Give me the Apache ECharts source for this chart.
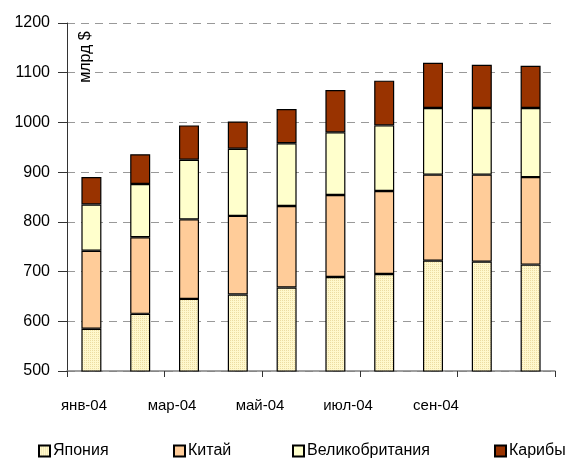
<!DOCTYPE html>
<html>
<head>
<meta charset="utf-8">
<script src="https://cdn.jsdelivr.net/npm/echarts@6/dist/echarts.min.js"></script>
<style>html,body{margin:0;padding:0;background:#fff}#c{width:574px;height:463px}</style>
</head>
<body>
<div id="c"></div>
<script>
var categories = ['янв-04','фев-04','мар-04','апр-04','май-04','июн-04','июл-04','авг-04','сен-04','окт-04'];
var tickLabels = ['янв-04','мар-04','май-04','июл-04','сен-04'];
var japan = [585, 615, 645, 654, 668, 689, 695, 722, 720, 714];
var china = [157, 154, 160, 158, 164, 165, 167, 173, 175, 176];
var uk = [93, 107, 120, 135, 126, 126, 132, 134, 134, 139];
var caribbean = [55, 60, 69, 55, 69, 85, 90, 91, 87, 85];
var seriesNames = ['Япония', 'Китай', 'Великобритания', 'Карибы'];
var yMin = 500, yMax = 1200, yStep = 100;

var font = '"Liberation Sans", Arial, sans-serif';

function makePattern() {
  var cv = document.createElement('canvas');
  cv.width = 2; cv.height = 2;
  var ctx = cv.getContext('2d');
  ctx.fillStyle = '#fff8cc';
  ctx.fillRect(0, 0, 2, 2);
  ctx.fillStyle = '#ecdca2';
  ctx.fillRect(0, 0, 1, 1);
  return cv;
}
var japanFill = { image: makePattern(), repeat: 'repeat' };

var chart = echarts.init(document.getElementById('c'), null, { renderer: 'canvas' });

function bar(name, data, color) {
  return {
    name: name, type: 'bar', stack: 'total', data: data,
    xAxisIndex: 0, yAxisIndex: 0,
    barWidth: 20,
    itemStyle: { color: color, borderColor: '#000', borderWidth: 1.2 },
    emphasis: { disabled: true },
    animation: false
  };
}

var legendLefts = [38, 173, 292, 494];
var legends = seriesNames.map(function (n, i) {
  return {
    bottom: 4, left: legendLefts[i], padding: 0,
    itemWidth: 11, itemHeight: 11, itemGap: 0,
    textStyle: { fontSize: 16, color: '#000', fontFamily: font, padding: [0, 0, 0, -2] },
    icon: 'rect',
    selectedMode: false,
    data: [n]
  };
});

chart.setOption({
  animation: false,
  textStyle: { fontFamily: font, color: '#000' },
  grid: [
    { left: 67, right: 19, top: 23, bottom: 92 },
    { left: 40, width: 440, top: 23, bottom: 92 }
  ],
  xAxis: [
    {
      type: 'category', data: categories, gridIndex: 0,
      axisLine: { lineStyle: { color: '#808080', width: 1.5 } },
      axisTick: { show: true, interval: 1, length: 6, lineStyle: { color: '#333' } },
      axisLabel: { show: false }
    },
    {
      type: 'category', data: tickLabels, gridIndex: 1,
      axisLine: { show: false }, axisTick: { show: false },
      axisLabel: { margin: 27, fontSize: 15, color: '#000', fontFamily: font }
    }
  ],
  yAxis: [
    {
      type: 'value', gridIndex: 0, min: yMin, max: yMax, interval: yStep,
      axisLine: { show: true, lineStyle: { color: '#333', width: 1 } },
      axisTick: { show: true, length: 9, lineStyle: { color: '#333' } },
      axisLabel: { margin: 17, fontSize: 16, color: '#000', fontFamily: font,
        formatter: function (v) { return String(v); } },
      splitLine: { show: true, lineStyle: { color: '#999', type: [8, 6], width: 1 } }
    },
    { type: 'value', gridIndex: 1, show: false, splitLine: { show: false } }
  ],
  legend: legends,
  graphic: [{
    type: 'text', x: 86, y: 57, rotation: Math.PI / 2,
    style: { text: 'млрд $', fontSize: 16, fontFamily: font, fill: '#000', textAlign: 'center', textVerticalAlign: 'middle' }
  }],
  series: [
    bar(seriesNames[0], japan, japanFill),
    bar(seriesNames[1], china, '#ffcc99'),
    bar(seriesNames[2], uk, '#ffffcc'),
    bar(seriesNames[3], caribbean, '#993300')
  ]
});
</script>
</body>
</html>
